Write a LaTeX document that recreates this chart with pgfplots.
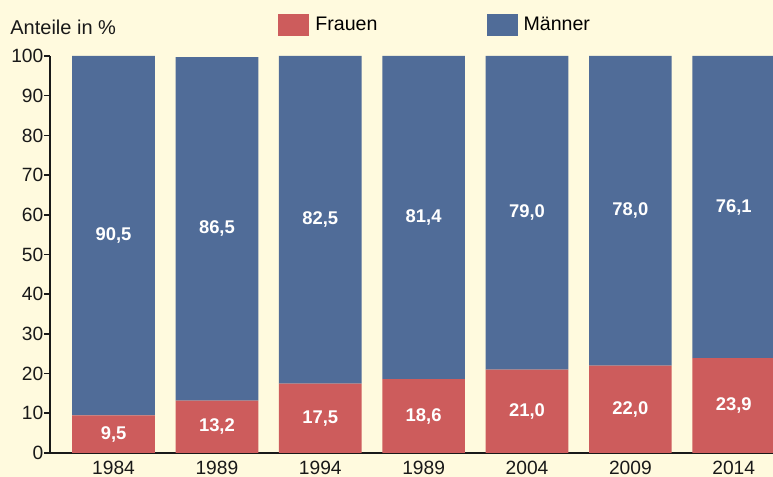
\documentclass[border=0pt]{standalone}
\usepackage{fontspec}
\setmainfont{Liberation Sans}
\usepackage{pgfplots}
\pgfplotsset{compat=1.18}
\definecolor{bg}{RGB}{255,250,222}
\definecolor{fr}{RGB}{205,92,92}
\definecolor{ma}{RGB}{80,108,152}
\definecolor{ax}{RGB}{25,25,25}
\begin{document}
\begin{tikzpicture}
\fill[bg] (-25pt,-12pt) rectangle (361.5pt,226.5pt);
\useasboundingbox (-25pt,-12pt) rectangle (361.5pt,226.5pt);
\pgfplotsset{common/.style={at={(0,0)}, anchor=south west, scale only axis,
  width=361.5pt, height=198.5pt, xmin=-0.615, xmax=6.38, ymin=0, ymax=100}}
\begin{axis}[common, ybar stacked, bar width=0.8,
  axis x line=bottom, axis y line=left,
  axis line style={-, line width=0.8pt, ax},
  xtick={0,...,6}, xticklabels={1984,1989,1994,1989,2004,2009,2014},
  x tick style={draw=none},
  ytick={0,10,...,100}, y tick style={line width=0.8pt, ax},
  tick align=outside, major tick length=3pt,
  tick label style={font=\fontsize{9.6}{11}\selectfont, text=ax},
  xticklabel style={yshift=2.4pt},
  yticklabel style={xshift=3.2pt},
  /pgf/number format/assume math mode=true,
  legend style={at={(0.3154,1.0775)}, anchor=west, draw=none, fill=none,
    legend columns=2, inner sep=0pt, font=\fontsize{9.8}{11}\selectfont,
    /tikz/every odd column/.append style={column sep=1pt},
    /tikz/every even column/.append style={column sep=52.5pt}},
  legend image code/.code={\fill[#1] (0pt,-5.5pt) rectangle (15.5pt,5.5pt);},
]
\addplot[fill=fr, draw=none] coordinates {(0,9.5) (1,13.2) (2,17.5) (3,18.6) (4,21.0) (5,22.0) (6,23.9)};
\addplot[fill=ma, draw=none] coordinates {(0,90.5) (1,86.5) (2,82.5) (3,81.4) (4,79.0) (5,78.0) (6,76.1)};
\legend{Frauen, Männer}
\end{axis}
\begin{axis}[common, hide axis, clip=false]
\addplot[draw=none, mark=none, nodes near coords, point meta=explicit symbolic,
  nodes near coords align={center},
  every node near coord/.append style={font=\bfseries\fontsize{9.2}{11}\selectfont, text=white}]
  coordinates {(0,4.75) [9,5] (1,6.6) [13,2] (2,8.75) [17,5] (3,9.3) [18,6] (4,10.5) [21,0] (5,11) [22,0] (6,11.95) [23,9]
  (0,54.75) [90,5] (1,56.45) [86,5] (2,58.75) [82,5] (3,59.3) [81,4] (4,60.5) [79,0] (5,61) [78,0] (6,61.95) [76,1]};
\end{axis}
\node[anchor=west, inner sep=0pt, text=ax, font=\fontsize{10}{12}\selectfont] at (-20pt,213pt) {Anteile in \%};
\end{tikzpicture}
\end{document}
